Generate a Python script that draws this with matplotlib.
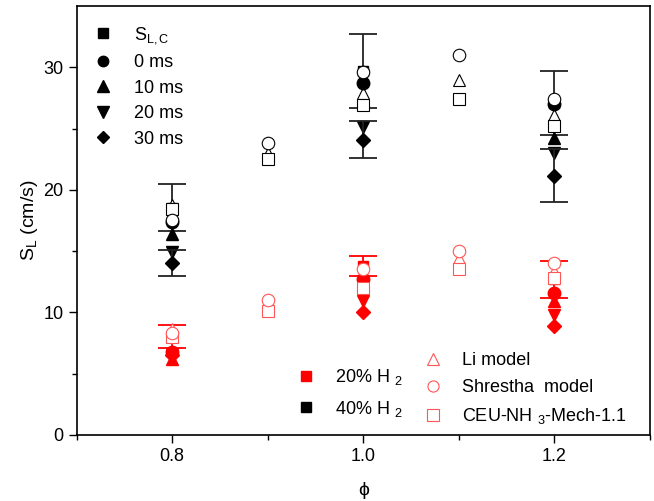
import matplotlib
matplotlib.use('Agg')
import matplotlib.pyplot as plt
from matplotlib.lines import Line2D
import numpy as np

plt.rcParams['font.family'] = ['Liberation Sans', 'DejaVu Sans']
plt.rcParams['mathtext.fontset'] = 'custom'
plt.rcParams['mathtext.rm'] = 'Liberation Sans'
plt.rcParams['mathtext.it'] = 'Liberation Sans'

# experiments (phi = 0.8, 1.0, 1.2)
phi_exp = [0.8, 1.0, 1.2]
# 40% H2
slc_40 = [18.55, 29.7, 27.1]
slc_40_err = [1.95, 3.0, 2.6]
ms0_40 = [17.4, 28.7, 27.0]
ms10_40 = [16.4, 27.3, 24.2]
ms20_40 = [14.9, 25.1, 23.0]
ms30_40 = [14.05, 24.1, 21.15]
ms30_40_err = [1.05, 1.5, 2.15]
# 20% H2
slc_20 = [8.05, 13.8, 12.7]
slc_20_err = [0.95, 0.8, 1.5]
ms0_20 = [6.8, 12.7, 11.6]
ms10_20 = [6.2, 12.2, 10.9]
ms20_20 = [6.6, 10.9, 9.8]
ms30_20 = [6.5, 10.0, 8.9]

# models (phi = 0.8 ... 1.2)
phi_mod = [0.8, 0.9, 1.0, 1.1, 1.2]
li_40 = [18.8, 23.0, 27.9, 29.0, 26.1]
shr_40 = [17.5, 23.8, 29.6, 31.0, 27.4]
ceu_40 = [18.4, 22.5, 26.9, 27.4, 25.2]
li_20 = [8.6, 10.8, 13.1, 14.4, 13.4]
shr_20 = [8.35, 11.0, 13.5, 15.0, 14.0]
ceu_20 = [8.0, 10.1, 12.0, 13.5, 12.8]

fig = plt.figure(figsize=(6.54, 5.01), dpi=100)
ax = fig.add_axes([0.117, 0.132, 0.877, 0.856])

red = '#ff0000'
pink = '#ff5555'

for col, slc, slc_e, m0, m10, m20, m30, m30_e in [
        ('k', slc_40, slc_40_err, ms0_40, ms10_40, ms20_40, ms30_40, ms30_40_err),
        (red, slc_20, slc_20_err, ms0_20, ms10_20, ms20_20, ms30_20, None)]:
    ecol = '#222222' if col == 'k' else red
    ax.errorbar(phi_exp, slc, yerr=slc_e, fmt='s', color=col, ecolor=ecol,
                ms=7, elinewidth=1.3, capsize=10, capthick=1.3, zorder=3)
    ax.plot(phi_exp, m20, 'v', color=col, ms=9, zorder=3)
    ax.plot(phi_exp, m10, '^', color=col, ms=9, zorder=3)
    if m30_e is not None:
        ax.errorbar(phi_exp, m30, yerr=m30_e, fmt='D', color=col, ecolor=ecol,
                    ms=7.5, elinewidth=1.3, capsize=10, capthick=1.3, zorder=3)
    else:
        ax.plot(phi_exp, m30, 'D', color=col, ms=7.5, zorder=3)

for col, li, shr, ceu, m0 in [('k', li_40, shr_40, ceu_40, ms0_40),
                              (pink, li_20, shr_20, ceu_20, ms0_20)]:
    ax.plot(phi_mod, li, '^', mfc='white', mec=col, mew=0.8, ms=9, ls='none', zorder=4)
    ax.plot(phi_exp, m0, 'o', color='k' if col == 'k' else red, ms=9, zorder=4)
    ax.plot(phi_mod, ceu, 's', mfc='white', mec=col, mew=0.8, ms=8, ls='none', zorder=4)
    ax.plot(phi_mod, shr, 'o', mfc='white', mec=col, mew=0.8, ms=9, ls='none', zorder=4)

ax.set_xlim(0.7, 1.3)
ax.set_ylim(0, 35)
ax.set_xticks([0.8, 1.0, 1.2])
ax.set_xticklabels(['0.8', '1.0', '1.2'])
ax.set_xticks([0.7, 0.9, 1.1, 1.3], minor=True)
ax.set_yticks([0, 10, 20, 30])
ax.set_yticks([5, 15, 25], minor=True)
ax.tick_params(which='major', direction='out', length=6, width=1, labelsize=13)
ax.tick_params(which='minor', direction='out', length=3.5, width=1)
for s in ax.spines.values():
    s.set_linewidth(1.2)
ax.set_xlabel('ϕ', fontsize=14, labelpad=12)
ax.set_ylabel(r'S$_{\rm L}$ (cm/s)', fontsize=14, labelpad=2)

h1 = [Line2D([], [], marker=m, color='k', ls='none', ms=s) for m, s in
      [('s', 7), ('o', 7.5), ('^', 8), ('v', 8), ('D', 6.5)]]
l1 = ax.legend(h1, [r'S$_{\rm L,C}$', '0 ms', '10 ms', '20 ms', '30 ms'],
               loc='upper left', bbox_to_anchor=(-0.017, 0.998), frameon=False,
               fontsize=13, handletextpad=0.7, labelspacing=0.47, borderpad=0.5)
ax.add_artist(l1)

h2 = [Line2D([], [], marker='s', color=c, ls='none', ms=7) for c in [red, 'k']]
l2 = ax.legend(h2, [r'20% H $_2$', r'40% H $_2$'], loc='lower left',
               bbox_to_anchor=(0.34, 0.0), frameon=False, fontsize=13,
               handletextpad=0.6, labelspacing=0.65)
ax.add_artist(l2)

h3 = [Line2D([], [], marker=m, mfc='white', mec=pink, mew=0.8, ls='none', ms=8)
      for m in ['^', 'o', 's']]
ax.legend(h3, ['Li model', 'Shrestha  model', r'CEU-NH $_3$-Mech-1.1'],
          loc='lower left', bbox_to_anchor=(0.562, -0.017), frameon=False, fontsize=13,
          handletextpad=0.6, labelspacing=0.55)

fig.savefig('out.png', dpi=100)
